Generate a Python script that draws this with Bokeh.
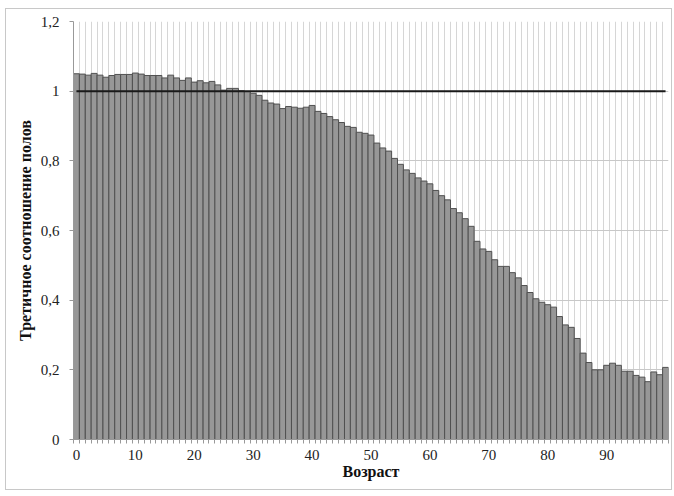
from bokeh.plotting import figure
from bokeh.models import Range1d, FixedTicker, ColumnDataSource
from bokeh.embed import file_html
from bokeh.resources import INLINE

ages = list(range(101))
ratio = [1.050, 1.049, 1.046, 1.051, 1.046, 1.040, 1.045, 1.048, 1.048, 1.048,
         1.052, 1.049, 1.045, 1.045, 1.045, 1.038, 1.046, 1.038, 1.031, 1.038,
         1.026, 1.030, 1.024, 1.028, 1.018, 1.003, 1.008, 1.008, 1.001, 0.999,
         0.994, 0.988, 0.974, 0.966, 0.963, 0.950, 0.956, 0.954, 0.951, 0.954,
         0.959, 0.942, 0.936, 0.927, 0.918, 0.910, 0.899, 0.896, 0.882, 0.879,
         0.874, 0.851, 0.837, 0.828, 0.807, 0.790, 0.774, 0.764, 0.751, 0.742,
         0.734, 0.715, 0.700, 0.688, 0.663, 0.651, 0.634, 0.612, 0.569, 0.547,
         0.540, 0.516, 0.497, 0.497, 0.479, 0.464, 0.442, 0.422, 0.404, 0.394,
         0.387, 0.380, 0.353, 0.329, 0.322, 0.290, 0.248, 0.221, 0.200, 0.200,
         0.213, 0.219, 0.213, 0.196, 0.196, 0.184, 0.179, 0.166, 0.194, 0.186,
         0.207]
parity = [1.0] * 101
x_ticks = [0, 10, 20, 30, 40, 50, 60, 70, 80, 90]
y_ticks = [0, 0.2, 0.4, 0.6, 0.8, 1.0, 1.2]
y_labels = ["0", "0,2", "0,4", "0,6", "0,8", "1", "1,2"]
x_title = "Возраст"
y_title = "Третичное соотношение полов"

FONT = "Liberation Serif"

p = figure(width=667, height=482, output_backend="svg", toolbar_location=None,
           x_range=Range1d(-0.5, 100.5), y_range=Range1d(0, 1.2),
           min_border_left=67, min_border_right=5, min_border_top=12,
           min_border_bottom=52)
p.styles = {"border": "1px solid #c8c8c8", "margin-left": "5px", "margin-top": "8px"}
p.outline_line_color = None
p.background_fill_color = "white"
p.border_fill_color = "white"

src = ColumnDataSource(dict(x=ages, top=ratio, one=parity))
p.vbar(x="x", top="top", width=1.0, bottom=0, source=src,
       fill_color="#979797", line_color="#505050", line_width=1)
p.line(x="x", y="one", source=src, line_color="#1a1a1a", line_width=2)

boundaries = [a - 0.5 for a in ages] + [ages[-1] + 0.5]
p.xaxis.ticker = FixedTicker(ticks=x_ticks, minor_ticks=boundaries)
p.xgrid.ticker = FixedTicker(ticks=boundaries)
p.xgrid.grid_line_color = "#d6d6d6"
p.xgrid.grid_line_width = 1
p.yaxis.ticker = FixedTicker(ticks=y_ticks)
p.yaxis.major_label_overrides = {t: l for t, l in zip(y_ticks, y_labels)}
p.ygrid.grid_line_color = "#c8c8c8"

for ax in (p.xaxis, p.yaxis):
    ax.axis_line_color = "#999999"
    ax.major_label_text_font = FONT
    ax.major_label_text_font_size = "15px"
    ax.major_label_text_color = "#222222"
    ax.axis_label_text_font = FONT
    ax.axis_label_text_font_size = "16px"
    ax.axis_label_text_font_style = "bold"
    ax.axis_label_text_color = "#111111"

p.xaxis.axis_label = x_title
p.yaxis.axis_label = y_title
p.xaxis.major_tick_line_color = None
p.xaxis.major_tick_out = 0
p.xaxis.major_tick_in = 0
p.xaxis.minor_tick_line_color = "#999999"
p.xaxis.minor_tick_in = 0
p.xaxis.minor_tick_out = 4
p.xaxis.major_label_standoff = 6
p.xaxis.axis_label_standoff = 0
p.yaxis.major_tick_line_color = "#999999"
p.yaxis.major_tick_in = 0
p.yaxis.major_tick_out = 4
p.yaxis.minor_tick_line_color = None
p.yaxis.major_label_standoff = 10
p.yaxis.axis_label_standoff = 4

open("out.html", "w").write(file_html(p, INLINE))
